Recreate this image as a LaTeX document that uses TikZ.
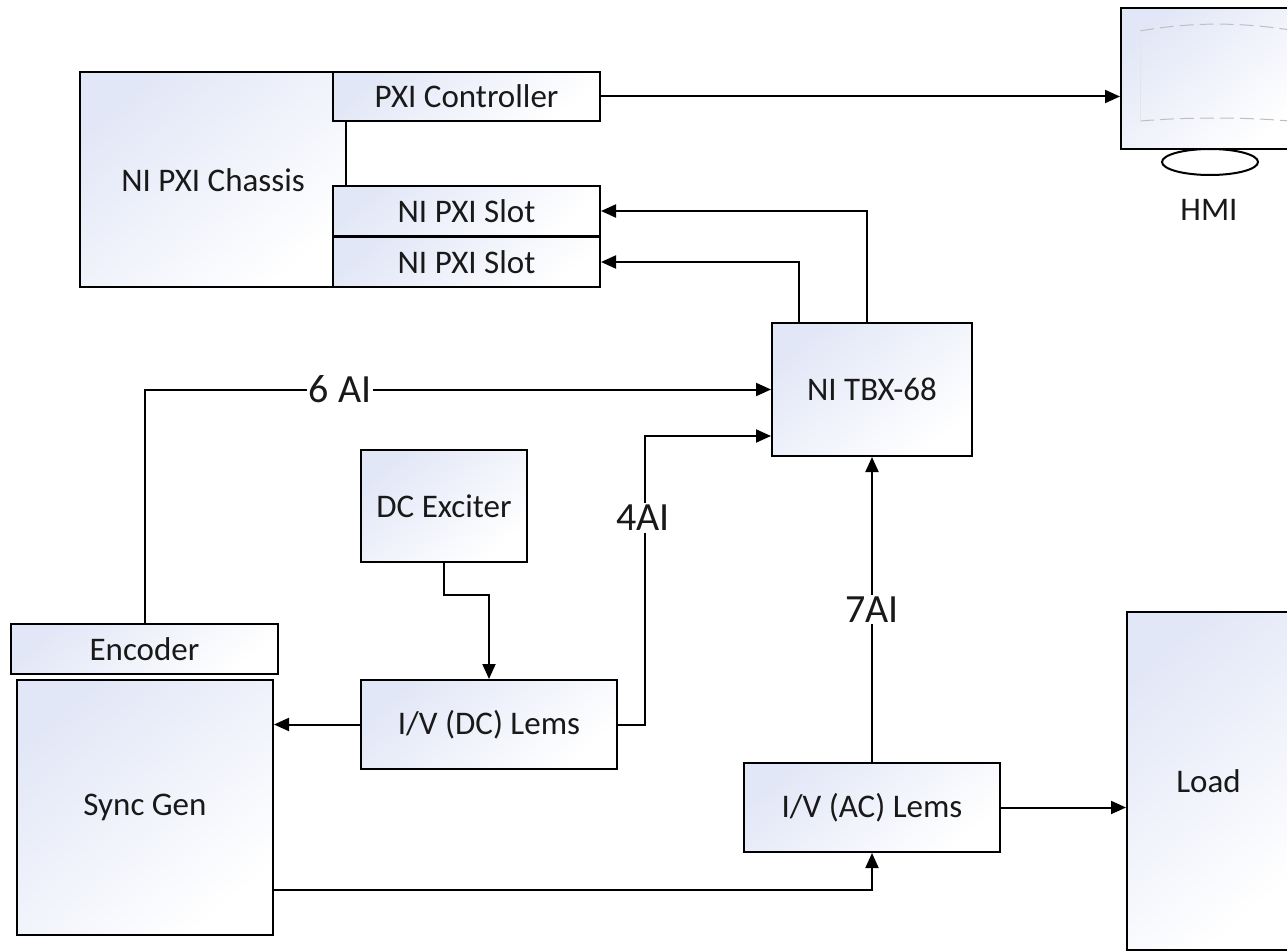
\documentclass[tikz,border=0pt]{standalone}
\usepackage{fontspec}
\setmainfont{Carlito}
\usetikzlibrary{arrows.meta,calc}
\definecolor{fillc}{RGB}{226,231,247}
\definecolor{txt}{RGB}{25,25,25}
\tikzset{
  box/.style={draw=black, line width=2pt, top color=fillc, bottom color=white, shading angle=40,
    inner sep=0pt, text=txt, font=\fontsize{33}{38}\selectfont},
  conn/.style={draw=black, line width=2pt, -{Triangle[length=15pt,width=13pt]}},
  plain/.style={draw=black, line width=2pt},
  lbl/.style={fill=white, inner sep=2pt, text=txt, font=\fontsize{40}{46}\selectfont},
  refl/.style={draw=black!25, line width=1pt, dash pattern=on 14pt off 6pt},
}
\begin{document}
\begin{tikzpicture}[x=1pt,y=-1pt]
\useasboundingbox[fill=white] (0,0) rectangle (1287,952);

% PXI chassis
\node[box, minimum width=266, minimum height=215] (chassis) at (213,179.5) {};
\node[text=txt, font=\fontsize{33}{38}\selectfont] (chassislbl) at (213,180) {NI PXI Chassis};
\node[box, minimum width=267, minimum height=49] (ctrl) at (466.5,96.5) {PXI Controller};
\node[box, minimum width=267, minimum height=50] (slot1) at (466.5,211) {NI PXI Slot};
\node[box, minimum width=267, minimum height=50] (slot2) at (466.5,262) {NI PXI Slot};

% HMI monitor
\draw[plain] (1210,162) ellipse [x radius=48, y radius=13];
\node[box, minimum width=178, minimum height=141] (screen) at (1210,78.5) {};
\draw[refl] (1140,31) .. controls (1190,22) and (1240,22) .. (1290,30);
\draw[refl] (1140,121) .. controls (1190,117) and (1240,117) .. (1290,121);
\draw[draw=black!10, line width=0.8pt] (1140,31) -- (1140,121);
\node[text=txt, font=\fontsize{33}{38}\selectfont] (hmi) at (1209,210) {HMI};

% other blocks
\node[box, minimum width=200, minimum height=133] (tbx) at (872,389.5) {NI TBX-68};
\node[box, minimum width=166, minimum height=112] (dce) at (444,506) {DC Exciter};
\node[box, minimum width=256, minimum height=89] (dcl) at (489,724.5) {I/V (DC) Lems};
\node[box, minimum width=267, minimum height=50] (enc) at (144.5,649) {Encoder};
\node[box, minimum width=256, minimum height=255] (sync) at (145,807.5) {Sync Gen};
\node[box, minimum width=256, minimum height=89] (acl) at (872,807.5) {I/V (AC) Lems};
\node[box, minimum width=163, minimum height=338] (load) at (1208.5,781) {Load};

% connectors
\draw[plain] (ctrl.south -| 346,0) -- (slot1.north -| 346,0);
\draw[conn] (ctrl.east) -- (screen.west |- ctrl.east);
\draw[conn] ([xshift=-5pt]tbx.north) |- (slot1.east);
\draw[conn] ([xshift=-73pt]tbx.north) |- (slot2.east);
\draw[conn] (enc.north) |- node[lbl, pos=0.656] (l6) {6 AI} (tbx.west);
\draw[conn] (dce.south) -- ++(0,32) -| (dcl.north);
\draw[conn] (dcl.west) -- (sync.east |- dcl.west);
\draw[conn] (dcl.east) -- ++(27,0) |- ([yshift=-46.5pt]tbx.west);
\node[lbl] (l4) at (643,518) {4AI};
\draw[conn] (acl.north) -- node[lbl, pos=0.5] (l7) {7AI} (tbx.south);
\draw[conn] (acl.east) -- (load.west |- acl.east);
\draw[conn] ([yshift=-82.5pt]sync.east) -| (acl.south);
\end{tikzpicture}
\end{document}
